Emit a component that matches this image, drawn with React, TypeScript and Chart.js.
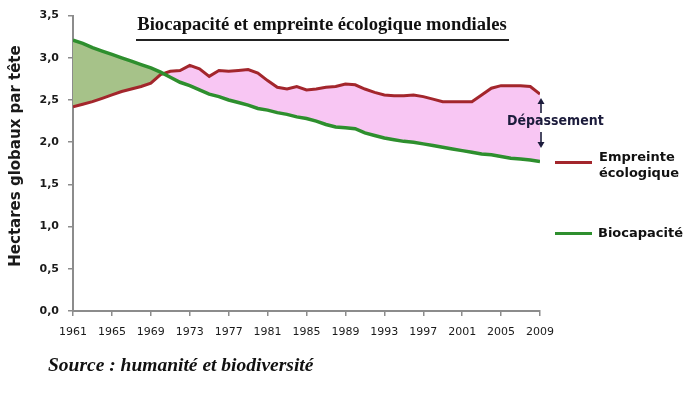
import React, { useEffect, useRef } from "react";
import { Chart, registerables } from "chart.js";

Chart.register(...registerables);

const years: number[] = [
  1961, 1962, 1963, 1964, 1965, 1966, 1967, 1968, 1969, 1970,
  1971, 1972, 1973, 1974, 1975, 1976, 1977, 1978, 1979, 1980,
  1981, 1982, 1983, 1984, 1985, 1986, 1987, 1988, 1989, 1990,
  1991, 1992, 1993, 1994, 1995, 1996, 1997, 1998, 1999, 2000,
  2001, 2002, 2003, 2004, 2005, 2006, 2007, 2008, 2009,
];

const empreinte: number[] = [
  2.42, 2.45, 2.48, 2.52, 2.56, 2.60, 2.63, 2.66, 2.70, 2.80,
  2.84, 2.85, 2.91, 2.87, 2.78, 2.85, 2.84, 2.85, 2.86, 2.82,
  2.73, 2.65, 2.63, 2.66, 2.62, 2.63, 2.65, 2.66, 2.69, 2.68,
  2.63, 2.59, 2.56, 2.55, 2.55, 2.56, 2.54, 2.51, 2.48, 2.48,
  2.48, 2.48, 2.56, 2.64, 2.67, 2.67, 2.67, 2.66, 2.57,
];

const biocapacite: number[] = [
  3.21, 3.17, 3.12, 3.08, 3.04, 3.00, 2.96, 2.92, 2.88, 2.83,
  2.77, 2.71, 2.67, 2.62, 2.57, 2.54, 2.50, 2.47, 2.44, 2.40,
  2.38, 2.35, 2.33, 2.30, 2.28, 2.25, 2.21, 2.18, 2.17, 2.16,
  2.11, 2.08, 2.05, 2.03, 2.01, 2.00, 1.98, 1.96, 1.94, 1.92,
  1.90, 1.88, 1.86, 1.85, 1.83, 1.81, 1.80, 1.79, 1.77,
];

const seriesNames: string[] = ["Empreinte écologique", "Biocapacité"];
const chartTitle = "Biocapacité et empreinte écologique mondiales";
const yAxisTitle = "Hectares globaux par tête";
const sourceText = "Source : humanité et biodiversité";
const overshootLabel = "Dépassement";

const RED = "#a3262c";
const GREEN = "#2e8f2e";
const PINK = "#f8c6f3";
const OLIVE = "#a6c289";
const AXIS = "#8c8c8c";
const NAVY = "#1c1c3c";

export default function App() {
  const canvasRef = useRef<HTMLCanvasElement | null>(null);

  useEffect(() => {
    const ctx = canvasRef.current;
    if (!ctx) return;
    const chart = new Chart(ctx, {
      type: "line",
      data: {
        datasets: [
          {
            label: seriesNames[0],
            data: years.map((y, i) => ({ x: y, y: empreinte[i] })),
            borderColor: RED,
            borderWidth: 3,
            pointRadius: 0,
            tension: 0,
            order: 1,
            fill: { target: 1, above: PINK, below: OLIVE },
          },
          {
            label: seriesNames[1],
            data: years.map((y, i) => ({ x: y, y: biocapacite[i] })),
            borderColor: GREEN,
            borderWidth: 3.5,
            pointRadius: 0,
            tension: 0,
            order: 0,
            fill: false,
          },
        ],
      },
      options: {
        animation: false,
        responsive: false,
        maintainAspectRatio: false,
        layout: { padding: { left: 0, right: 144, top: 12, bottom: 0 } },
        plugins: {
          legend: { display: false },
          tooltip: { enabled: false },
          title: { display: false },
        },
        scales: {
          x: {
            type: "linear",
            min: 1961,
            max: 2009,
            afterFit: (scale: any) => {
              scale.height = 82;
            },
            ticks: {
              stepSize: 4,
              autoSkip: false,
              maxRotation: 0,
              padding: 10,
              color: "#1a1a1a",
              font: { family: "DejaVu Sans", size: 11 },
              callback: (v: any) => String(v),
            },
            grid: {
              drawOnChartArea: false,
              drawTicks: true,
              tickLength: 5,
              color: AXIS,
              lineWidth: 1.5,
            },
            border: { color: AXIS, width: 2 },
          },
          y: {
            min: 0,
            max: 3.5,
            afterFit: (scale: any) => {
              scale.width = 73;
            },
            ticks: {
              stepSize: 0.5,
              padding: 9,
              color: "#1a1a1a",
              font: { family: "DejaVu Sans", size: 11, weight: "bold" },
              callback: (v: any) => Number(v).toFixed(1).replace(".", ","),
            },
            grid: {
              drawOnChartArea: false,
              drawTicks: true,
              tickLength: 5,
              color: AXIS,
              lineWidth: 1.5,
            },
            border: { color: AXIS, width: 2 },
          },
        },
      },
    });
    return () => chart.destroy();
  }, []);

  const sans = "'DejaVu Sans', sans-serif";
  const serif = "'Liberation Serif', 'DejaVu Serif', serif";

  return (
    <div
      style={{
        position: "fixed",
        left: 0,
        top: 0,
        width: 684,
        height: 393,
        background: "#ffffff",
        overflow: "hidden",
      }}
    >
      <canvas ref={canvasRef} width={684} height={393} style={{ position: "absolute", left: 0, top: 0 }} />
      {/* title */}
      <div
        style={{
          position: "absolute",
          left: 122,
          top: 13,
          width: 400,
          textAlign: "center",
          fontFamily: serif,
          fontWeight: "bold",
          fontSize: 18.6,
          lineHeight: "22px",
          color: "#111",
          whiteSpace: "nowrap",
        }}
      >
        {chartTitle}
      </div>
      <div style={{ position: "absolute", left: 136, top: 39, width: 373, height: 1.5, background: "#222" }} />
      {/* y axis title */}
      <div
        style={{
          position: "absolute",
          left: 15,
          top: 156,
          transform: "translate(-50%, -50%) rotate(-90deg)",
          fontFamily: sans,
          fontWeight: "bold",
          fontSize: 15,
          whiteSpace: "nowrap",
          color: "#1a1a1a",
        }}
      >
        {yAxisTitle}
      </div>
      {/* overshoot annotation arrows */}
      <svg width={684} height={393} style={{ position: "absolute", left: 0, top: 0 }}>
        <line x1={541} y1={102} x2={541} y2={113} stroke={NAVY} strokeWidth={1.6} />
        <polygon points="537.5,104 544.5,104 541,98" fill={NAVY} />
        <line x1={541} y1={132} x2={541} y2={144} stroke={NAVY} strokeWidth={1.6} />
        <polygon points="537.5,142 544.5,142 541,148" fill={NAVY} />
      </svg>
      <div
        style={{
          position: "absolute",
          left: 507,
          top: 112,
          fontFamily: sans,
          fontWeight: "bold",
          fontSize: 14,
          fontStretch: "condensed",
          lineHeight: "17px",
          color: NAVY,
          whiteSpace: "nowrap",
        }}
      >
        {overshootLabel}
      </div>
      {/* legend */}
      <div style={{ position: "absolute", left: 555, top: 161, width: 37, height: 3, background: RED }} />
      <div
        style={{
          position: "absolute",
          left: 599,
          top: 149,
          fontFamily: sans,
          fontWeight: "bold",
          fontSize: 13,
          lineHeight: "16px",
          color: "#111",
        }}
      >
        Empreinte
        <br />
        écologique
      </div>
      <div style={{ position: "absolute", left: 555, top: 232, width: 37, height: 3, background: GREEN }} />
      <div
        style={{
          position: "absolute",
          left: 598,
          top: 225,
          fontFamily: sans,
          fontWeight: "bold",
          fontSize: 13,
          lineHeight: "16px",
          color: "#111",
        }}
      >
        Biocapacité
      </div>
      {/* source */}
      <div
        style={{
          position: "absolute",
          left: 48,
          top: 354,
          fontFamily: serif,
          fontWeight: "bold",
          fontStyle: "italic",
          fontSize: 19.5,
          lineHeight: "22px",
          color: "#111",
          whiteSpace: "nowrap",
        }}
      >
        {sourceText}
      </div>
    </div>
  );
}
